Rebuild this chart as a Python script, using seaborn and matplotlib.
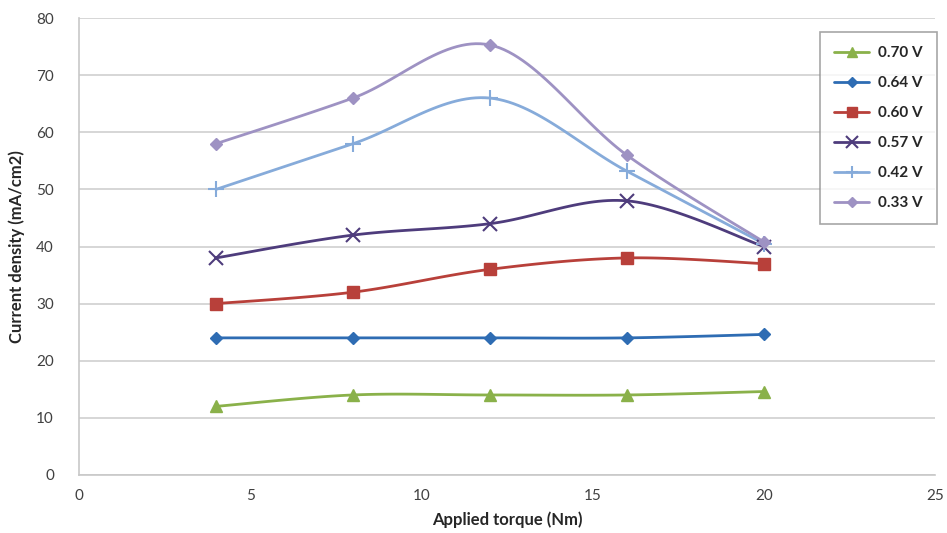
import numpy as np
import pandas as pd
import matplotlib
matplotlib.use("Agg")
import matplotlib.pyplot as plt
import seaborn as sns
from matplotlib.lines import Line2D

# Data
torque = [4, 8, 12, 16, 20]
v070 = [12, 14, 14, 14, 14.6]
v064 = [24, 24, 24, 24, 24.6]
v060 = [30, 32, 36, 38, 37]
v057 = [38, 42, 44, 48, 40]
v042 = [50, 58, 66, 53.2, 40.5]
v033 = [58, 66, 75.3, 56, 40.8]

labels = ["0.70 V", "0.64 V", "0.60 V", "0.57 V", "0.42 V", "0.33 V"]
series = [v070, v064, v060, v057, v042, v033]
colors = ["#8AB14A", "#2E6CB3", "#B8403A", "#4E3C7C", "#86ABDA", "#9E92C3"]
markers = ["^", "D", "s", "x", "+", "D"]
msizes = [8, 6, 8, 10, 11, 6]


def smooth(x, y, n=30):
    # Excel style smoothed line (Catmull-Rom bezier) through the points
    x = np.asarray(x, float)
    y = np.asarray(y, float)
    px, py = [], []
    for i in range(len(x) - 1):
        i0 = max(i - 1, 0)
        i3 = min(i + 2, len(x) - 1)
        c1x = x[i] + (x[i + 1] - x[i0]) / 6
        c1y = y[i] + (y[i + 1] - y[i0]) / 6
        c2x = x[i + 1] - (x[i3] - x[i]) / 6
        c2y = y[i + 1] - (y[i3] - y[i]) / 6
        t = np.linspace(0, 1, n)
        a = (1 - t) ** 3
        b = 3 * (1 - t) ** 2 * t
        c = 3 * (1 - t) * t ** 2
        d = t ** 3
        px.extend(a * x[i] + b * c1x + c * c2x + d * x[i + 1])
        py.extend(a * y[i] + b * c1y + c * c2y + d * y[i + 1])
    return np.array(px), np.array(py)


sns.set_style("white")
plt.rcParams["font.family"] = ["Lato", "DejaVu Sans"]

fig = plt.figure(figsize=(9.47, 5.33), dpi=100)
ax = fig.add_axes([0.0834, 0.109, 0.904, 0.857])

handles = []
for lab, vals, col, mk, ms in zip(labels, series, colors, markers, msizes):
    sx, sy = smooth(torque, vals)
    curve = pd.DataFrame({"x": sx, "y": sy})
    sns.lineplot(data=curve, x="x", y="y", color=col, linewidth=2.0, ax=ax,
                 sort=False, estimator=None)
    mew = 1.5 if mk in ("x", "+") else 1
    ax.plot(torque, vals, linestyle="none", marker=mk, markersize=ms,
            color=col, markeredgecolor=col, markeredgewidth=mew, zorder=3)
    handles.append(Line2D([0], [0], color=col, linewidth=2.0, marker=mk,
                          markersize=ms * 0.85, markeredgewidth=mew))

ax.set_xlim(0, 25)
ax.set_ylim(0, 80)
ax.set_xticks(range(0, 26, 5))
ax.set_yticks(range(0, 81, 10))
ax.yaxis.grid(True, color="#D0D0D0", linewidth=1.2)
ax.set_axisbelow(True)
for side in ["top", "right"]:
    ax.spines[side].set_visible(False)
for side in ["left", "bottom"]:
    ax.spines[side].set_color("#C8C8C8")
    ax.spines[side].set_linewidth(1.2)
ax.tick_params(axis="y", length=0, pad=18, labelsize=11, labelcolor="#404040")
ax.tick_params(axis="x", length=0, pad=10, labelsize=11, labelcolor="#404040")

ax.set_xlabel("Applied torque (Nm)", fontsize=12, fontweight="bold", labelpad=6)
ax.set_ylabel("Current density (mA/cm2)", fontsize=12, fontweight="bold", labelpad=8)

leg = ax.legend(handles, labels, loc="upper right", bbox_to_anchor=(1.002, 0.969),
                frameon=True, fancybox=False, handlelength=2.3, handletextpad=0.6,
                labelspacing=1.05, borderpad=0.9, borderaxespad=0,
                prop={"weight": "bold", "size": 11})
leg.get_frame().set_edgecolor("#909090")
leg.get_frame().set_linewidth(1.2)

fig.savefig("out.png", dpi=100)
